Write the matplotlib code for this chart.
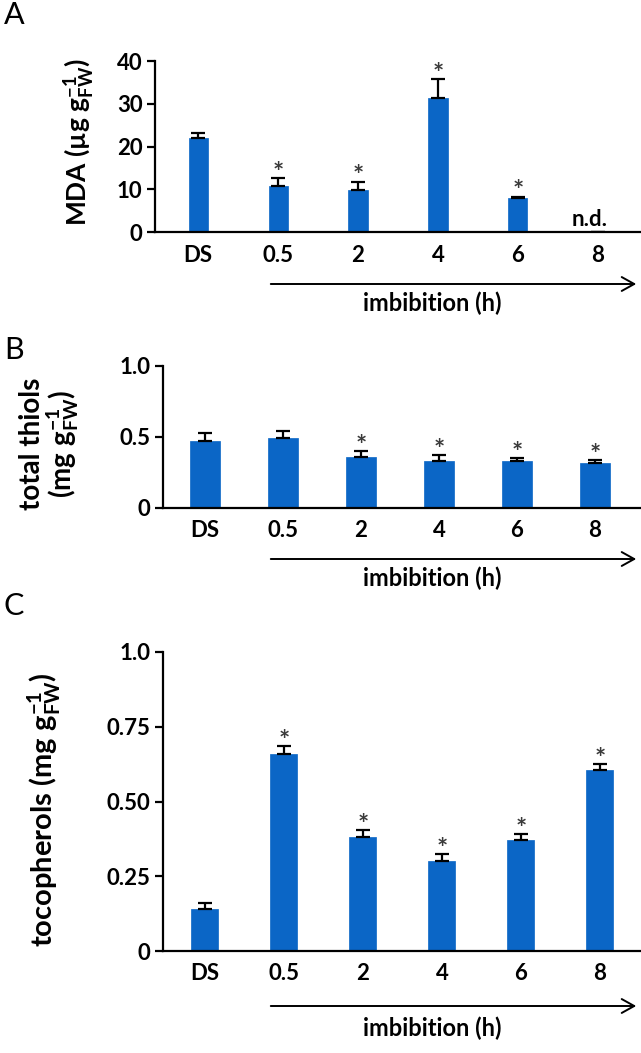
import matplotlib
matplotlib.use('Agg')
import matplotlib.pyplot as plt
from matplotlib.patches import FancyArrowPatch

plt.rcParams['font.family'] = ['Lato', 'DejaVu Sans']
plt.rcParams['font.weight'] = 'bold'
plt.rcParams['mathtext.fontset'] = 'custom'
plt.rcParams['mathtext.rm'] = 'Lato:bold'
plt.rcParams['mathtext.it'] = 'Lato:bold:italic'
plt.rcParams['mathtext.bf'] = 'Lato:bold'

categories = ['DS', '0.5', '2', '4', '6', '8']

# A: MDA (ug/g FW), 8 h not detected
mda = [21.9, 10.8, 9.9, 31.3, 8.0, 0]
mda_err = [1.2, 1.9, 1.9, 4.5, 0.3, 0]
mda_sig = [False, True, True, True, True, False]

# B: total thiols (mg/g FW)
thiols = [0.47, 0.49, 0.36, 0.33, 0.33, 0.315]
thiols_err = [0.06, 0.055, 0.04, 0.04, 0.025, 0.025]
thiols_sig = [False, False, True, True, True, True]

# C: tocopherols (mg/g FW)
toco = [0.14, 0.66, 0.38, 0.30, 0.37, 0.605]
toco_err = [0.02, 0.025, 0.025, 0.025, 0.02, 0.02]
toco_sig = [False, True, True, True, True, True]

BLUE = '#0b66c6'
W, H = 641, 1053


def fx(px):
    return px / W


def fy(py):
    return 1 - py / H


def panel(rect, values, errs, sig, width, ylim, yticks, yticklabels, fs):
    ax = fig.add_axes(rect)
    x = list(range(len(values)))
    lower = [0] * len(values)
    ax.bar(x, values, width=width, color=BLUE, edgecolor=BLUE, linewidth=0.5, zorder=2)
    ax.errorbar(x, values, yerr=[lower, errs], fmt='none', ecolor='black',
                elinewidth=1.6, capsize=5, capthick=1.6, zorder=3)
    for xi, v, e, s in zip(x, values, errs, sig):
        if s:
            ax.annotate('*', (xi, v + e), xytext=(0, -5), textcoords='offset points',
                        ha='center', va='bottom', fontsize=19, color='#3a3a3a',
                        fontweight='bold')
    ax.set_ylim(*ylim)
    ax.set_yticks(yticks)
    ax.set_yticklabels(yticklabels)
    ax.set_xticks(x)
    ax.set_xticklabels(categories)
    for side in ['top', 'right']:
        ax.spines[side].set_visible(False)
    for side in ['left', 'bottom']:
        ax.spines[side].set_linewidth(1.6)
    ax.tick_params(axis='y', length=6, width=1.6, pad=3, labelsize=fs)
    ax.tick_params(axis='x', length=0, pad=9, labelsize=16)
    return ax


def imbibition(y_arrow, y_text):
    arr = FancyArrowPatch((fx(268), fy(y_arrow)), (fx(639), fy(y_arrow)),
                          transform=fig.transFigure, arrowstyle='->,head_length=9,head_width=5',
                          color='black', linewidth=1.4, mutation_scale=1)
    fig.add_artist(arr)
    fig.text(fx(432), fy(y_text), 'imbibition (h)', ha='center', va='center', fontsize=17)


fig = plt.figure(figsize=(W / 100, H / 100), dpi=100)

# Panel A
axA = panel([fx(155), fy(232), 1 - fx(155), (232 - 61) / H], mda, mda_err, mda_sig, 0.24,
            (0, 40), [0, 10, 20, 30, 40], ['0', '10', '20', '30', '40'], 16)
axA.set_xlim(-0.54, 5.54)
axA.text(4.9, 0.4, 'n.d.', ha='center', va='bottom', fontsize=16)
fig.text(fx(79), fy(142), r'MDA (µg g$^{-1}_{\mathrm{FW}}$)', rotation=90,
         ha='center', va='center', fontsize=19)
fig.text(fx(14), fy(15), 'A', ha='center', va='center', fontsize=22, fontweight='normal')
imbibition(284, 303)

# Panel B
axB = panel([fx(163), fy(508), 1 - fx(163), (508 - 366) / H], thiols, thiols_err, thiols_sig, 0.39,
            (0, 1.0), [0, 0.5, 1.0], ['0', '0.5', '1.0'], 16)
axB.set_xlim(-0.54, 5.59)
fig.text(fx(50), fy(444), 'total thiols\n' + r'(mg g$^{-1}_{\mathrm{FW}}$)', rotation=90,
         ha='center', va='center', fontsize=20, linespacing=1.0)
fig.text(fx(14), fy(350), 'B', ha='center', va='center', fontsize=22, fontweight='normal')
imbibition(559, 578)

# Panel C
axC = panel([fx(163), fy(951), 1 - fx(163), (951 - 652) / H], toco, toco_err, toco_sig, 0.34,
            (0, 1.0), [0, 0.25, 0.5, 0.75, 1.0], ['0', '0.25', '0.50', '0.75', '1.0'], 16)
axC.set_xlim(-0.53, 5.52)
fig.text(fx(44), fy(810), r'tocopherols (mg g$^{-1}_{\mathrm{FW}}$)', rotation=90,
         ha='center', va='center', fontsize=21)
fig.text(fx(14), fy(606), 'C', ha='center', va='center', fontsize=22, fontweight='normal')
imbibition(1006, 1028)

fig.savefig('out.png', dpi=100)
